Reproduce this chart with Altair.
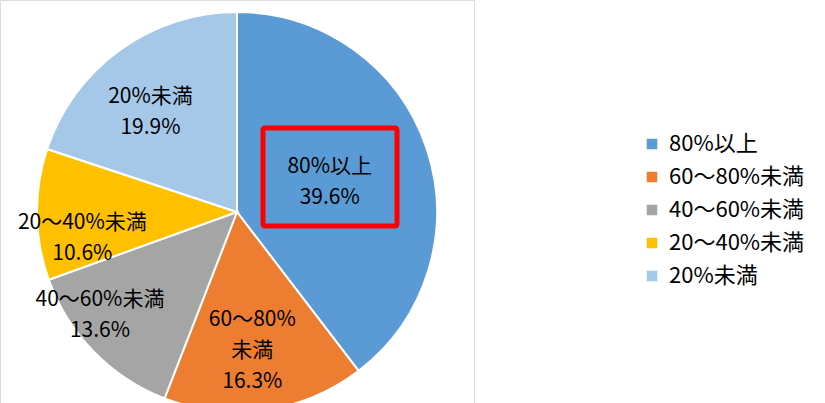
import altair as alt
import pandas as pd

categories = ["80%以上", "60～80%未満", "40～60%未満", "20～40%未満", "20%未満"]
values = [39.6, 16.3, 13.6, 10.6, 19.9]
label_texts = ["80%以上\n39.6%", "60～80%\n未満\n16.3%", "40～60%未満\n13.6%", "20～40%未満\n10.6%", "20%未満\n19.9%"]
colors = ["#5B9BD5", "#ED7D31", "#A5A5A5", "#FFC000", "#A6C8E8"]

# label layout (style): radial distance of first line and angular shift in degrees
label_radius = [103, 109, 163, 155, 144]
label_shift = [-7, 0, 11.5, -3.2, -1.1]

df = pd.DataFrame({
    "cat": categories,
    "v": values,
    "lab": label_texts,
    "idx": list(range(len(categories))),
    "lr": label_radius,
    "ls": label_shift,
})

FONT = "Noto Sans CJK JP"

base = alt.Chart(df)

pie = base.mark_arc(radius=200, stroke="white", strokeWidth=2).encode(
    theta=alt.Theta("v:Q", stack=True),
    order=alt.Order("idx:Q"),
    color=alt.Color(
        "cat:N",
        scale=alt.Scale(domain=categories, range=colors),
        sort=categories,
        legend=alt.Legend(
            title=None,
            orient="none",
            legendX=641,
            legendY=133,
            symbolType="square",
            symbolSize=110,
            symbolStrokeWidth=0,
            labelFont=FONT,
            labelFontSize=22,
            labelColor="#000000",
            rowPadding=11,
            labelOffset=6,
            labelLimit=300,
        ),
    ),
)

labels = base.transform_window(
    cum="sum(v)", sort=[alt.SortField("idx")], frame=[None, 0]
).transform_calculate(
    mid="(datum.cum - datum.v/2)/100*2*PI + datum.ls*PI/180"
).mark_text(
    font=FONT, fontSize=21, color="#000000", lineBreak="\n", lineHeight=31,
    align="center", baseline="middle",
).encode(
    theta=alt.Theta("mid:Q", scale=None),
    radius=alt.Radius("lr:Q", scale=None),
    text="lab:N",
)

box = alt.Chart(pd.DataFrame({"a": [0]})).mark_rect(
    fill=None, stroke="#FF0000", strokeWidth=5, cornerRadius=2
).encode(
    x=alt.value(263), x2=alt.value(397), y=alt.value(128), y2=alt.value(226)
)

chart = alt.layer(pie, labels, box).properties(
    width=474, height=424, padding=0,
    autosize=alt.AutoSizeParams(type="pad"),
).configure_view(stroke=None).configure(background="white")

chart.save("out.html", embed_options={"renderer": "svg", "actions": False})
